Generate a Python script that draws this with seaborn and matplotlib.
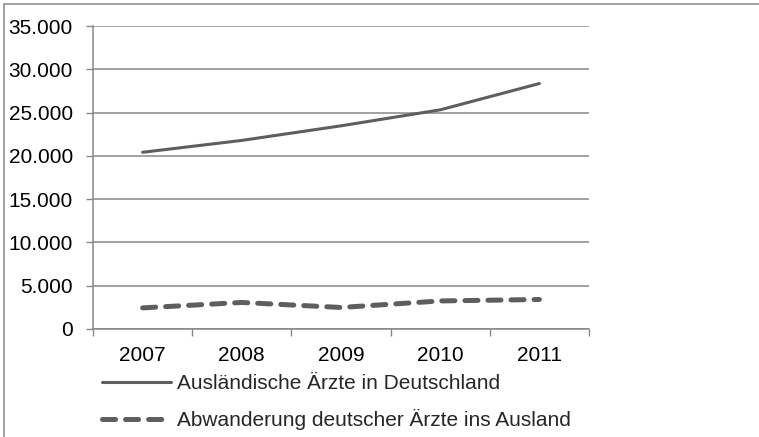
import matplotlib
matplotlib.use("Agg")
import matplotlib.pyplot as plt
from matplotlib.lines import Line2D
from matplotlib.ticker import FuncFormatter, FixedLocator
import seaborn as sns
import pandas as pd

years = ["2007", "2008", "2009", "2010", "2011"]
auslaendische_aerzte = [20412, 21784, 23469, 25316, 28355]
abwanderung = [2439, 3065, 2486, 3241, 3410]
series_labels = ["Ausländische Ärzte in Deutschland",
                 "Abwanderung deutscher Ärzte ins Ausland"]
y_ticks = [0, 5000, 10000, 15000, 20000, 25000, 30000, 35000]

sns.set_theme(style="white")
plt.rcParams["font.family"] = ["Liberation Sans", "DejaVu Sans"]
plt.rcParams["lines.scale_dashes"] = False

FS = 15
LINE_COLOR = "#5e5e5e"
GRID_COLOR = "#878787"
DASHES = (9.4, 7.2)

df = pd.DataFrame({
    "pos": list(range(len(years))) * 2,
    "value": auslaendische_aerzte + abwanderung,
    "series": [series_labels[0]] * len(years) + [series_labels[1]] * len(years),
})

fig = plt.figure(figsize=(7.59, 4.37), dpi=100)
ax = fig.add_axes([93 / 759, 1 - 329 / 437, (589 - 93) / 759, (329 - 26) / 437])

sns.lineplot(data=df[df["series"] == series_labels[0]], x="pos", y="value",
             ax=ax, color=LINE_COLOR, linewidth=2.2, legend=False,
             solid_capstyle="round")
sns.lineplot(data=df[df["series"] == series_labels[1]], x="pos", y="value",
             ax=ax, color=LINE_COLOR, linewidth=3.6, legend=False,
             dash_capstyle="round")
ax.lines[1].set_dashes(DASHES)

ax.set_xlim(-0.5, len(years) - 0.5)
ax.set_ylim(0, 35000)

# category axis: ticks between categories, labels centred on them
ax.xaxis.set_major_locator(FixedLocator([i - 0.5 for i in range(len(years) + 1)]))
ax.xaxis.set_major_formatter(FuncFormatter(lambda v, p: ""))
ax.xaxis.set_minor_locator(FixedLocator(list(range(len(years)))))
ax.set_xticklabels(years, minor=True)
ax.tick_params(axis="x", which="major", length=5, width=1, color=GRID_COLOR,
               direction="out", bottom=True)
ax.tick_params(axis="x", which="minor", length=0, pad=12.5, labelsize=FS,
               labelcolor="black", bottom=True)

ax.set_yticks(y_ticks)
ax.yaxis.set_major_formatter(
    FuncFormatter(lambda v, p: f"{int(v):,}".replace(",", ".")))
ax.tick_params(axis="y", length=5, width=1, color=GRID_COLOR, direction="out",
               pad=9.5, labelsize=FS, labelcolor="black", left=True)

ax.set_xlabel("")
ax.set_ylabel("")
ax.grid(axis="y", color=GRID_COLOR, linewidth=1.1)
ax.set_axisbelow(True)
for side in ("top", "right"):
    ax.spines[side].set_visible(False)
for side in ("left", "bottom"):
    ax.spines[side].set_color(GRID_COLOR)
    ax.spines[side].set_linewidth(1.1)

handles = [
    Line2D([], [], color=LINE_COLOR, linewidth=2.2),
    Line2D([], [], color=LINE_COLOR, linewidth=3.6, dashes=DASHES,
           dash_capstyle="round"),
]
fig.legend(handles, series_labels, loc="upper left",
           bbox_to_anchor=(102 / 759, 1 - 374 / 437), frameon=False,
           fontsize=FS, handlelength=3.3, handletextpad=0.3,
           labelspacing=0.78, borderpad=0, borderaxespad=0)

# outer chart frame
fig.add_artist(Line2D([4 / 759, 1], [1 - 4 / 437, 1 - 4 / 437],
                      color=GRID_COLOR, linewidth=1.1, transform=fig.transFigure))
fig.add_artist(Line2D([4 / 759, 4 / 759], [0, 1 - 4 / 437],
                      color=GRID_COLOR, linewidth=1.1, transform=fig.transFigure))

fig.savefig("out.png", dpi=100)
